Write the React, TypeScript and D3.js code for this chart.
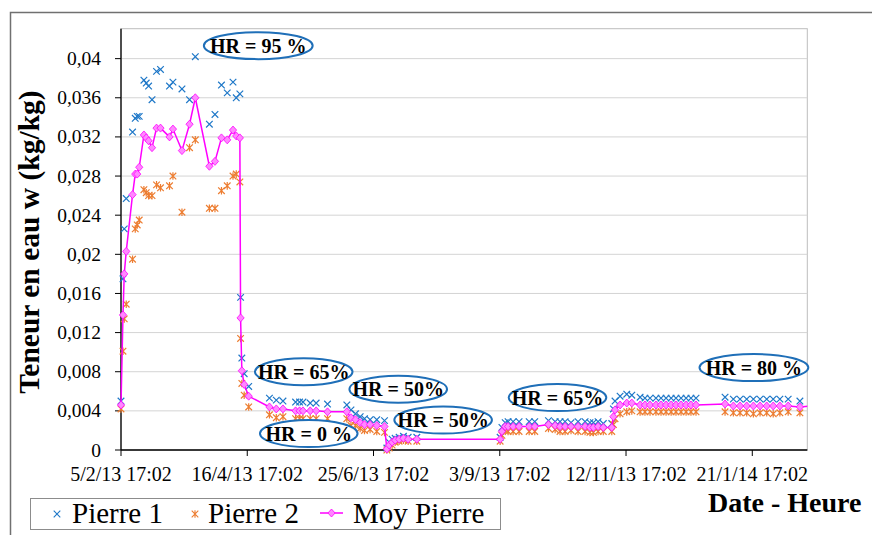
import React from 'react';
import * as d3 from 'd3';

const START = Date.UTC(2013, 1, 5, 17, 2); // 5/2/13 17:02
const DAY = 86400000;
const AXIS_DAYS = 380.5;

// jours depuis le 5/2/13 17:02
const DAYS = [
  0, 1.1, 1.8, 2.9, 6.4, 7.9, 9.0, 10.1, 12.7, 14.0, 15.3, 17.2, 19.7, 21.9, 26.9, 28.8, 33.8, 38.0, 41.2, 49.0,
  52.1, 55.7, 58.9, 62.1, 63.9, 65.9, 66.3, 67.0, 68.3, 70.8,
  82.3, 86.1, 89.8, 96.8, 99.0, 100.9, 104.9, 108.2, 114.5, 125.2,
  127.5, 130.0, 132.6, 135.0, 138.1, 141.8, 146.1,
  147.4, 148.7, 150.3, 152.0, 154.2, 156.6, 159.2, 164.0,
  210.2, 211.2, 213.0, 214.6, 217.4, 220.7, 226.3, 229.4, 237.0, 240.7, 243.4, 246.2, 249.5, 253.4, 257.3, 260.0,
  261.9, 264.5, 267.4, 272.1,
  273.0, 273.9, 276.7, 280.4, 283.2, 287.8, 290.5, 293.3, 296.6, 299.4, 302.2, 305.0, 307.7, 310.5, 313.3, 316.0, 318.8,
  334.9, 339.5, 343.2, 346.9, 350.6, 354.3, 358.0, 361.6, 365.3, 369.9, 376.4,
  384,
];

const P1 = [
  0.0050, 0.0175, 0.0226, 0.0257, 0.0325, 0.0339, 0.0341, 0.0341, 0.0378, 0.0375, 0.0372, 0.0358, 0.0387, 0.0389, 0.0372, 0.0376, 0.0369, 0.0358, 0.0402, 0.0333,
  0.0343, 0.0373, 0.0365, 0.0376, 0.0360, 0.0364, 0.0156, 0.0094, 0.0078, 0.0065,
  0.0053, 0.0051, 0.0050, 0.0049, 0.0049, 0.0049, 0.0048, 0.0048, 0.0047, 0.0046,
  0.0041, 0.0037, 0.0034, 0.0032, 0.0031, 0.0031, 0.0030,
  0.0002, 0.0008, 0.0011, 0.0012, 0.0013, 0.0014, 0.0013, 0.0013,
  0.0013, 0.0023, 0.0028, 0.0029, 0.0029, 0.0029, 0.0029, 0.0029, 0.0030, 0.0029, 0.0029, 0.0029, 0.0028, 0.0029, 0.0029, 0.0028,
  0.0028, 0.0029, 0.0027, 0.0027,
  0.0042, 0.0050, 0.0055, 0.0057, 0.0056, 0.0054, 0.0053, 0.0053, 0.0053, 0.0053, 0.0053, 0.0053, 0.0053, 0.0053, 0.0053, 0.0053, 0.0053,
  0.0054, 0.0052, 0.0052, 0.0052, 0.0052, 0.0052, 0.0052, 0.0052, 0.0052, 0.0052, 0.0050,
  0.0052,
];

const P2 = [
  0.0042, 0.0101, 0.0134, 0.0149, 0.0195, 0.0226, 0.0230, 0.0235, 0.0266, 0.0263, 0.0260, 0.0260, 0.0271, 0.0268, 0.0270, 0.0280, 0.0243, 0.0309, 0.0317, 0.0247,
  0.0247, 0.0265, 0.0270, 0.0280, 0.0282, 0.0274, 0.0114, 0.0068, 0.0056, 0.0044,
  0.0036, 0.0033, 0.0034, 0.0032, 0.0032, 0.0032, 0.0032, 0.0032, 0.0032, 0.0032,
  0.0025, 0.0025, 0.0022, 0.0020, 0.0021, 0.0019, 0.0018,
  0.0000, 0.0002, 0.0005, 0.0008, 0.0009, 0.0010, 0.0009, 0.0009,
  0.0009, 0.0015, 0.0020, 0.0019, 0.0019, 0.0019, 0.0019, 0.0019, 0.0022, 0.0021, 0.0019, 0.0019, 0.0020, 0.0019, 0.0019, 0.0018,
  0.0018, 0.0019, 0.0019, 0.0019,
  0.0026, 0.0032, 0.0037, 0.0039, 0.0040, 0.0039, 0.0039, 0.0039, 0.0039, 0.0039, 0.0039, 0.0039, 0.0039, 0.0039, 0.0039, 0.0039, 0.0039,
  0.0039, 0.0038, 0.0038, 0.0038, 0.0037, 0.0038, 0.0038, 0.0037, 0.0038, 0.0039, 0.0038,
  0.0038,
];

const MOY = [
  0.0046, 0.0138, 0.0180, 0.0203, 0.0261, 0.0282, 0.0282, 0.0289, 0.0322, 0.0319, 0.0316, 0.0309, 0.0329, 0.0329, 0.0320, 0.0328, 0.0306, 0.0333, 0.0360, 0.0290,
  0.0295, 0.0319, 0.0317, 0.0327, 0.0321, 0.0319, 0.0135, 0.0081, 0.0067, 0.0055,
  0.0044, 0.0042, 0.0042, 0.0040, 0.0040, 0.0040, 0.0040, 0.0040, 0.0039, 0.0039,
  0.0033, 0.0031, 0.0028, 0.0026, 0.0026, 0.0025, 0.0024,
  0.0001, 0.0005, 0.0008, 0.0010, 0.0011, 0.0012, 0.0011, 0.0011,
  0.0011, 0.0019, 0.0024, 0.0024, 0.0024, 0.0024, 0.0024, 0.0024, 0.0026, 0.0025, 0.0024, 0.0024, 0.0024, 0.0024, 0.0024, 0.0023,
  0.0023, 0.0024, 0.0023, 0.0023,
  0.0034, 0.0041, 0.0046, 0.0048, 0.0048, 0.0046, 0.0046, 0.0046, 0.0046, 0.0046, 0.0046, 0.0046, 0.0046, 0.0046, 0.0046, 0.0046, 0.0046,
  0.0047, 0.0045, 0.0045, 0.0045, 0.0045, 0.0045, 0.0045, 0.0045, 0.0045, 0.0045, 0.0044,
  0.0045,
];

const X_TICK_DAYS = [0, 70, 140, 210, 280, 350];
const Y_TICKS = [0, 0.004, 0.008, 0.012, 0.016, 0.02, 0.024, 0.028, 0.032, 0.036, 0.04];

// bulles HR : [texte, jour, teneur]
const HR_LABELS: [string, number, number][] = [
  ['HR = 95 %', 76.1, 0.04133],
  ['HR = 65%', 101.3, 0.0080],
  ['HR = 0 %', 104.1, 0.00168],
  ['HR = 50%', 153.7, 0.00622],
  ['HR = 50%', 178.6, 0.00306],
  ['HR = 65%', 242.0, 0.00536],
  ['HR = 80 %', 350.9, 0.00842],
];

const BLUE = '#1f78c8';
const ORANGE = '#ed7d31';
const PINK = '#ff00ff';
const SERIF = "'Liberation Serif', 'Times New Roman', serif";

const crossPath = 'M-3.3,-3.3L3.3,3.3M-3.3,3.3L3.3,-3.3';
const starPath = 'M-3.3,-3.3L3.3,3.3M-3.3,3.3L3.3,-3.3M0,-3.8L0,3.8';
const diamondPath = 'M0,-4L3.6,0L0,4L-3.6,0Z';

const App = () => {
  const width = 872;
  const height = 535;
  const plot = { left: 121, right: 807.3, top: 28.7, bottom: 450 };

  const x = d3.scaleUtc()
    .domain([new Date(START), new Date(START + AXIS_DAYS * DAY)])
    .range([plot.left, plot.right]);
  const y = d3.scaleLinear().domain([0, 0.04306]).range([plot.bottom, plot.top]);
  const fmt = d3.utcFormat('%-d/%-m/%y %H:%M');
  const dateOf = (d: number) => new Date(START + d * DAY);

  const line = d3.line<number>()
    .x((_, i) => x(dateOf(DAYS[i])))
    .y(v => y(v));

  return (
    <svg width={width} height={height}
      style={{ position: 'absolute', left: 0, top: 0, background: '#fff', fontFamily: SERIF }}>
      <defs>
        <clipPath id="plotclip">
          <rect x={0} y={0} width={plot.right} height={height} />
        </clipPath>
      </defs>
      {/* cadre du graphique */}
      <path d={`M10.5,${height}V12.5H${width}`} fill="none" stroke="#707070" strokeWidth={1.5} />

      {/* zone de tracé */}
      <rect x={plot.left} y={plot.top} width={plot.right - plot.left} height={plot.bottom - plot.top}
        fill="#fff" stroke="#bdbdbd" strokeWidth={1} />
      {Y_TICKS.filter(t => t > 0).map(t => (
        <line key={t} x1={plot.left} x2={plot.right} y1={y(t)} y2={y(t)} stroke="#d4d4d4" strokeWidth={1} />
      ))}

      {/* axe Y */}
      <line x1={plot.left} x2={plot.left} y1={plot.top} y2={plot.bottom} stroke="#000" strokeWidth={1.3} />
      {Y_TICKS.map(t => (
        <g key={t}>
          <line x1={plot.left - 6} x2={plot.left} y1={y(t)} y2={y(t)} stroke="#000" />
          <text x={101} y={y(t) + 6.5} textAnchor="end" fontSize={19.5}>
            {String(t).replace('.', ',')}
          </text>
        </g>
      ))}

      {/* axe X */}
      <line x1={plot.left} x2={plot.right} y1={plot.bottom} y2={plot.bottom} stroke="#000" strokeWidth={1.3} />
      {X_TICK_DAYS.map(d => (
        <g key={d}>
          <line x1={x(dateOf(d))} x2={x(dateOf(d))} y1={plot.bottom} y2={plot.bottom + 6} stroke="#000" />
          <text x={x(dateOf(d))} y={plot.bottom + 31} textAnchor="middle" fontSize={20}>
            {fmt(dateOf(d))}
          </text>
        </g>
      ))}

      {/* séries */}
      <g clipPath="url(#plotclip)">
        {P1.map((v, i) => (
          <path key={'a' + i} d={crossPath} transform={`translate(${x(dateOf(DAYS[i]))},${y(v)})`}
            stroke={BLUE} strokeWidth={1.2} fill="none" />
        ))}
        {P2.map((v, i) => (
          <path key={'b' + i} d={starPath} transform={`translate(${x(dateOf(DAYS[i]))},${y(v)})`}
            stroke={ORANGE} strokeWidth={1.2} fill="none" />
        ))}
        <path d={line(MOY) || ''} fill="none" stroke={PINK} strokeWidth={1.5} />
        {MOY.map((v, i) => (
          <path key={'c' + i} d={diamondPath} transform={`translate(${x(dateOf(DAYS[i]))},${y(v)})`}
            fill="#ff88ff" stroke={PINK} strokeWidth={0.8} />
        ))}
      </g>

      {/* bulles HR */}
      {HR_LABELS.map(([label, d, v], i) => {
        const cx = x(dateOf(d));
        const cy = y(v);
        const rx = 4 + label.length * 5.6;
        return (
          <g key={i}>
            <ellipse cx={cx} cy={cy} rx={rx} ry={13.5} fill="#fff" stroke="#1f6fb8" strokeWidth={2} />
            <text x={cx} y={cy + 7} textAnchor="middle" fontSize={20} fontWeight="bold">{label}</text>
          </g>
        );
      })}

      {/* titres des axes */}
      <text transform={`translate(39,242) rotate(-90)`} textAnchor="middle"
        fontSize={29.5} fontWeight="bold">Teneur en eau w (kg/kg)</text>
      <text x={708} y={512} fontSize={28} fontWeight="bold">Date - Heure</text>

      {/* légende */}
      <rect x={30.5} y={498.5} width={470} height={31} fill="#fff" stroke="#8c8c8c" strokeWidth={1} />
      <path d={crossPath} transform="translate(57,514)" stroke={BLUE} strokeWidth={1.1} fill="none" />
      <text x={72} y={523} fontSize={29}>Pierre 1</text>
      <path d={starPath} transform="translate(195,514)" stroke={ORANGE} strokeWidth={1.1} fill="none" />
      <text x={208} y={523} fontSize={29}>Pierre 2</text>
      <line x1={320} x2={343} y1={513} y2={513} stroke={PINK} strokeWidth={1.5} />
      <path d={diamondPath} transform="translate(331.5,513)" fill="#ff88ff" stroke={PINK} strokeWidth={0.8} />
      <text x={353} y={523} fontSize={29}>Moy Pierre</text>
    </svg>
  );
};

export default App;
